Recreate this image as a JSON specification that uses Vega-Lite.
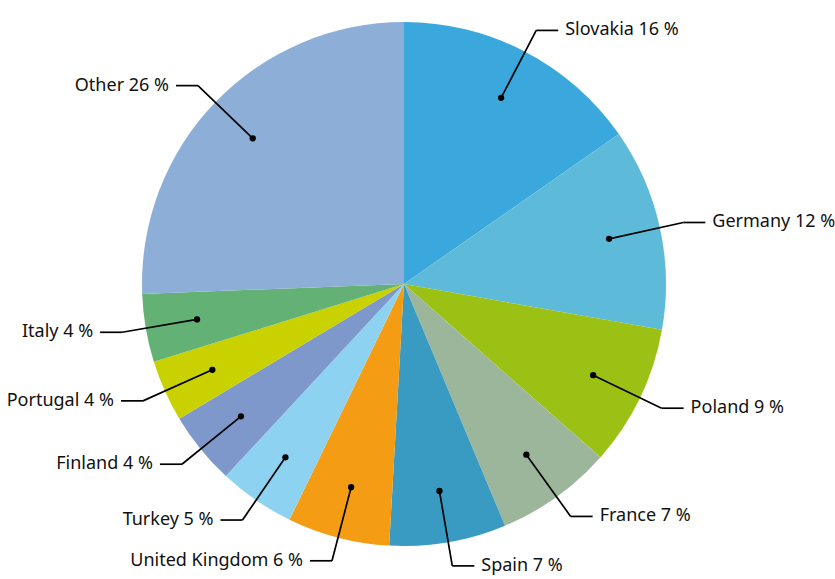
{
  "$schema": "https://vega.github.io/schema/vega-lite/v6.json",
  "width": 808,
  "height": 568,
  "padding": {"left": 0, "top": 0, "right": 27, "bottom": 11},
  "autosize": "none",
  "background": "white",
  "config": {"view": {"stroke": null}, "text": {"font": "Noto Sans"}},
  "data": {"values": [
    {"country": "Slovakia", "value": 15.3, "pct": 16, "order": 1},
    {"country": "Germany", "value": 12.5, "pct": 12, "order": 2},
    {"country": "Poland", "value": 8.7, "pct": 9, "order": 3},
    {"country": "France", "value": 7.2, "pct": 7, "order": 4},
    {"country": "Spain", "value": 7.2, "pct": 7, "order": 5},
    {"country": "United Kingdom", "value": 6.3, "pct": 6, "order": 6},
    {"country": "Turkey", "value": 4.7, "pct": 5, "order": 7},
    {"country": "Finland", "value": 4.5, "pct": 4, "order": 8},
    {"country": "Portugal", "value": 3.8, "pct": 4, "order": 9},
    {"country": "Italy", "value": 4.2, "pct": 4, "order": 10},
    {"country": "Other", "value": 25.6, "pct": 26, "order": 11}
  ]},
  "transform": [
    {"window": [{"op": "sum", "field": "value", "as": "cum"}], "sort": [{"field": "order"}], "frame": [null, 0]},
    {"joinaggregate": [{"op": "sum", "field": "value", "as": "total"}]},
    {"calculate": "2*PI*(datum.cum - datum.value/2)/datum.total", "as": "mid"},
    {"calculate": "sin(datum.mid)", "as": "dx"},
    {"calculate": "cos(datum.mid)", "as": "dy"},
    {"calculate": "datum.dx >= 0 ? 1 : -1", "as": "side"},
    {"calculate": "210*datum.dx", "as": "px"},
    {"calculate": "210*datum.dy", "as": "py"},
    {"calculate": "286*datum.dx", "as": "ex"},
    {"calculate": "286*datum.dy", "as": "ey"},
    {"calculate": "datum.ex + datum.side*22", "as": "hx"},
    {"calculate": "datum.hx + datum.side*7", "as": "tx"},
    {"calculate": "datum.country + ' ' + datum.pct + ' %'", "as": "label"}
  ],
  "layer": [
    {
      "mark": {"type": "arc", "outerRadius": 262},
      "encoding": {
        "theta": {"field": "value", "type": "quantitative", "stack": true},
        "order": {"field": "order", "type": "quantitative"},
        "color": {"field": "country", "type": "nominal", "legend": null,
          "scale": {
            "domain": ["Slovakia", "Germany", "Poland", "France", "Spain", "United Kingdom", "Turkey", "Finland", "Portugal", "Italy", "Other"],
            "range": ["#3AA8DC", "#5DBBD9", "#9AC114", "#9CB69C", "#3A9BC2", "#F39C14", "#8DD3F1", "#7E98CB", "#C9D200", "#63B174", "#8DAFD7"]
          }}
      }
    },
    {
      "mark": {"type": "rule", "color": "black", "strokeWidth": 1.7},
      "encoding": {
        "x": {"field": "px", "type": "quantitative", "scale": {"domain": [-404, 404], "nice": false, "zero": false}, "axis": null},
        "y": {"field": "py", "type": "quantitative", "scale": {"domain": [-284, 284], "nice": false, "zero": false}, "axis": null},
        "x2": {"field": "ex"},
        "y2": {"field": "ey"}
      }
    },
    {
      "mark": {"type": "rule", "color": "black", "strokeWidth": 1.7},
      "encoding": {
        "x": {"field": "ex", "type": "quantitative"},
        "y": {"field": "ey", "type": "quantitative"},
        "x2": {"field": "hx"},
        "y2": {"field": "ey"}
      }
    },
    {
      "mark": {"type": "point", "filled": true, "color": "black", "size": 40, "opacity": 1},
      "encoding": {
        "x": {"field": "px", "type": "quantitative"},
        "y": {"field": "py", "type": "quantitative"}
      }
    },
    {
      "transform": [{"filter": "datum.side > 0"}],
      "mark": {"type": "text", "align": "left", "baseline": "middle", "fontSize": 18, "color": "#111"},
      "encoding": {
        "x": {"field": "tx", "type": "quantitative"},
        "y": {"field": "ey", "type": "quantitative"},
        "text": {"field": "label"}
      }
    },
    {
      "transform": [{"filter": "datum.side < 0"}],
      "mark": {"type": "text", "align": "right", "baseline": "middle", "fontSize": 18, "color": "#111"},
      "encoding": {
        "x": {"field": "tx", "type": "quantitative"},
        "y": {"field": "ey", "type": "quantitative"},
        "text": {"field": "label"}
      }
    }
  ]
}
